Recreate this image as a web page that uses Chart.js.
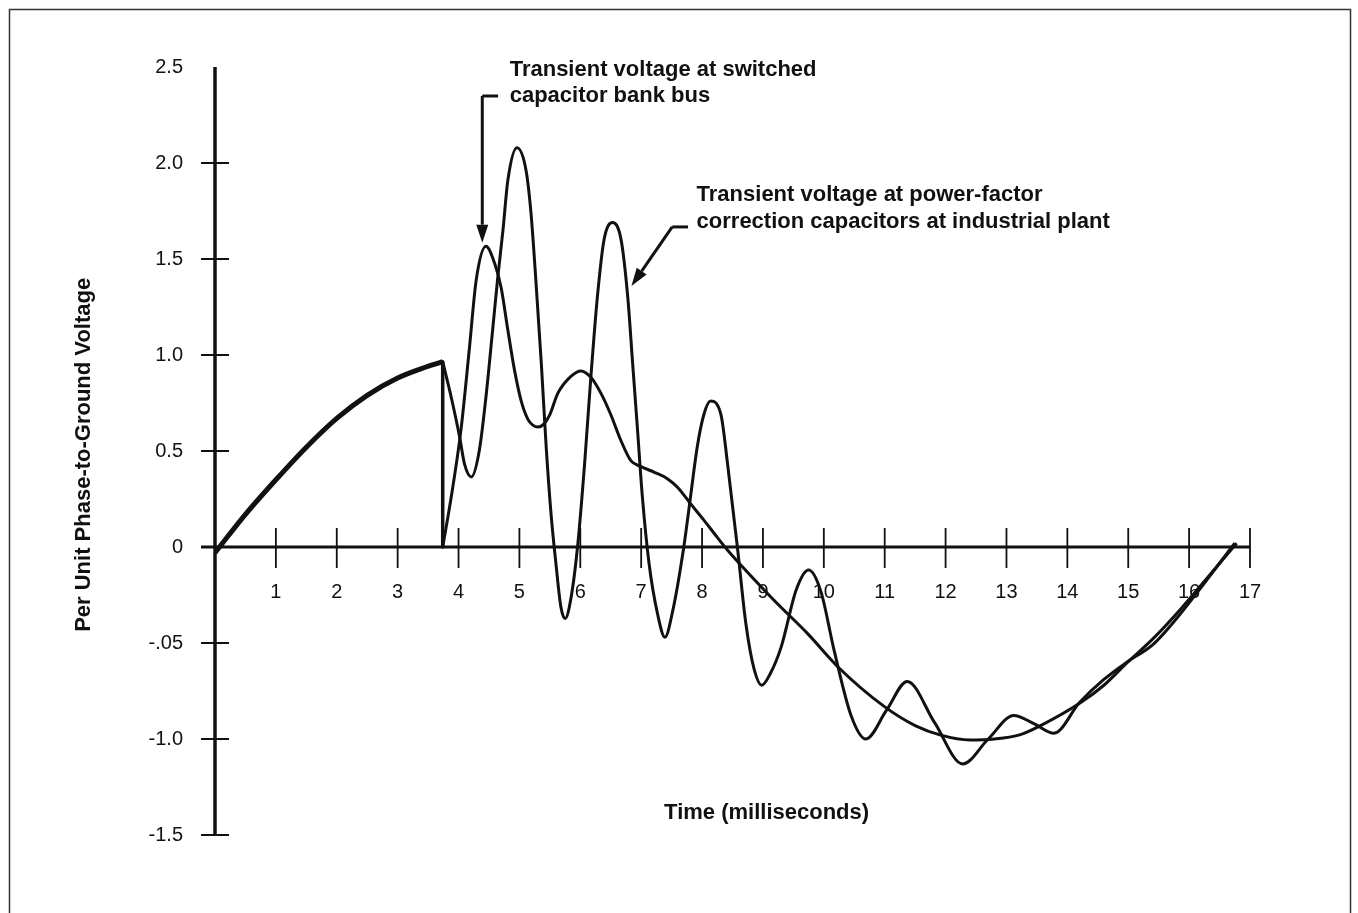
<!DOCTYPE html>
<html>
<head>
<meta charset="utf-8">
<title>Capacitor switching transient</title>
<script src="https://cdn.jsdelivr.net/npm/chart.js@4.4.1/dist/chart.umd.min.js"></script>
<style>
  html, body { margin: 0; padding: 0; background: #fff; }
  #wrap { position: relative; width: 1358px; height: 913px; }
</style>
</head>
<body>
<div id="wrap"><canvas id="chart"></canvas></div>
<script>
// Axis labels as printed on the original
const xTickLabels = ['', '1', '2', '3', '4', '5', '6', '7', '8', '9', '10', '11', '12', '13', '14', '15', '16', '17'];
const yTickLabels = ['-1.5', '-1.0', '-.05', '0', '0.5', '1.0', '1.5', '2.0', '2.5'];

// Before switching: both capacitors follow the 60 Hz wave
const preTime = [0, 0.5, 1, 1.5, 2, 2.5, 3, 3.4, 3.74];
const preVolt = [-0.03, 0.17, 0.35, 0.52, 0.67, 0.79, 0.88, 0.93, 0.965];

// Switching instant: bus voltage collapses to zero
const dropTime = [3.74, 3.74];
const dropVolt = [0.965, 0];

// Transient voltage at switched capacitor bank bus
const busTime = [3.74, 3.88, 4.04, 4.18, 4.29, 4.45, 4.59, 4.70, 4.81, 4.92, 5.03, 5.14, 5.22, 5.31, 5.40, 5.50, 5.63, 5.85,
  6.01, 6.17, 6.34, 6.50, 6.66, 6.83, 6.99, 7.21, 7.43, 7.60, 7.81, 8.03, 8.25, 8.42, 8.64, 9.19, 9.73, 10.25,
  10.99, 11.5, 11.92, 12.4, 12.8, 13.2, 13.56, 14.22, 14.6, 14.99, 15.4, 15.87, 16.3, 16.78];
const busVolt = [0, 0.26, 0.61, 1.04, 1.39, 1.566, 1.48, 1.35, 1.13, 0.92, 0.76, 0.665, 0.635, 0.625, 0.64, 0.69, 0.80, 0.89,
  0.917, 0.885, 0.80, 0.69, 0.56, 0.45, 0.42, 0.39, 0.356, 0.31, 0.226, 0.14, 0.05, -0.017, -0.095, -0.28, -0.45, -0.63,
  -0.83, -0.93, -0.98, -1.005, -1.0, -0.98, -0.93, -0.81, -0.72, -0.60, -0.48, -0.32, -0.16, 0.02];

// Transient voltage at power-factor correction capacitors (industrial plant)
const plantTime = [3.74, 3.88, 4.02, 4.10, 4.21, 4.34, 4.45, 4.56, 4.64, 4.73, 4.81, 4.96, 5.11, 5.19, 5.27, 5.36,
  5.44, 5.52, 5.60, 5.68, 5.75, 5.85, 5.96, 6.07, 6.17, 6.28, 6.39, 6.53, 6.67, 6.78, 6.86, 6.94, 7.02, 7.13, 7.27,
  7.39, 7.52, 7.70, 7.81, 7.92, 8.03, 8.14, 8.31, 8.42, 8.58, 8.72, 8.85, 8.98, 9.12, 9.3, 9.55, 9.75, 9.95, 10.17,
  10.45, 10.69, 11.03, 11.37, 11.82, 12.28, 12.7, 13.12, 13.45, 13.78, 14.2, 14.6, 15.0, 15.4, 15.8, 16.1, 16.75];
const plantVolt = [0.965, 0.78, 0.57, 0.43, 0.365, 0.50, 0.78, 1.13, 1.39, 1.65, 1.91, 2.08, 1.96, 1.74, 1.39, 0.955,
  0.52, 0.17, -0.087, -0.31, -0.373, -0.26, 0.017, 0.43, 0.87, 1.30, 1.60, 1.69, 1.60, 1.30, 0.955, 0.61, 0.26, -0.087, -0.35,
  -0.47, -0.33, 0, 0.26, 0.52, 0.69, 0.76, 0.69, 0.43, 0, -0.40, -0.63, -0.72, -0.66, -0.52, -0.22, -0.12, -0.23, -0.54,
  -0.88, -1.0, -0.85, -0.70, -0.915, -1.13, -1.0, -0.877, -0.92, -0.97, -0.81, -0.69, -0.595, -0.51, -0.37, -0.25, 0.02];

const toPoints = (xs, ys) => xs.map((x, i) => ({ x, y: ys[i] }));

const INK = '#111';
const FONT = '"Liberation Sans", Arial, Helvetica, sans-serif';

function arrow(ctx, x1, y1, x2, y2) {
  const ang = Math.atan2(y2 - y1, x2 - x1);
  const len = 18, half = 6;
  const bx = x2 - len * Math.cos(ang), by = y2 - len * Math.sin(ang);
  ctx.beginPath();
  ctx.moveTo(x1, y1);
  ctx.lineTo(bx, by);
  ctx.stroke();
  ctx.beginPath();
  ctx.moveTo(x2, y2);
  ctx.lineTo(bx + half * Math.sin(ang), by - half * Math.cos(ang));
  ctx.lineTo(bx - half * Math.sin(ang), by + half * Math.cos(ang));
  ctx.closePath();
  ctx.fill();
}

// Axes through the origin with ticks crossing them, notes and arrows
const decor = {
  id: 'decor',
  beforeDatasetsDraw(chart) {
    const { ctx, scales: { x, y } } = chart;
    const x0 = x.getPixelForValue(0), y0 = y.getPixelForValue(0);
    ctx.save();
    ctx.strokeStyle = INK;
    ctx.lineCap = 'butt';

    ctx.lineWidth = 3.5;
    ctx.beginPath();
    ctx.moveTo(x0, y.top);
    ctx.lineTo(x0, y.bottom);
    ctx.stroke();

    ctx.lineWidth = 3;
    ctx.beginPath();
    ctx.moveTo(x0 - 14, y0);
    ctx.lineTo(x.right, y0);
    ctx.stroke();

    ctx.lineWidth = 1.8;
    ctx.beginPath();
    y.ticks.forEach(t => {
      if (t.value >= y.max || t.value === 0) return;
      const py = y.getPixelForValue(t.value);
      ctx.moveTo(x0 - 14, py);
      ctx.lineTo(x0 + 14, py);
    });
    x.ticks.forEach(t => {
      if (t.value <= 0) return;
      const px = x.getPixelForValue(t.value);
      ctx.moveTo(px, y0 - 19);
      ctx.lineTo(px, y0 + 21);
    });
    ctx.stroke();
    ctx.restore();
  },
  afterDraw(chart) {
    const { ctx, scales: { x, y } } = chart;
    const px = v => x.getPixelForValue(v);
    const py = v => y.getPixelForValue(v);
    ctx.save();

    // frame
    ctx.strokeStyle = '#333';
    ctx.lineWidth = 1.5;
    ctx.strokeRect(9.5, 9.5, 1341, 940);

    ctx.fillStyle = INK;
    ctx.strokeStyle = INK;
    ctx.font = 'bold 22px ' + FONT;
    ctx.textBaseline = 'middle';
    ctx.textAlign = 'left';

    // note: switched capacitor bank bus
    ctx.fillText('Transient voltage at switched', px(4.84), py(2.484));
    ctx.fillText('capacitor bank bus', px(4.84), py(2.349));
    ctx.lineWidth = 3;
    ctx.beginPath();
    ctx.moveTo(px(4.39), py(2.349));
    ctx.lineTo(px(4.65), py(2.349));
    ctx.stroke();
    arrow(ctx, px(4.39), py(2.349), px(4.39), py(1.585));

    // note: industrial plant capacitors
    ctx.fillText('Transient voltage at power-factor', px(7.91), py(1.833));
    ctx.fillText('correction capacitors at industrial plant', px(7.91), py(1.693));
    ctx.beginPath();
    ctx.moveTo(px(7.51), py(1.667));
    ctx.lineTo(px(7.77), py(1.667));
    ctx.stroke();
    arrow(ctx, px(7.51), py(1.667), px(6.84), py(1.36));

    // x title inside the plot
    ctx.textAlign = 'center';
    ctx.fillText('Time (milliseconds)', px(9.06), py(-1.385));

    // y title
    ctx.translate(84, py(0.48));
    ctx.rotate(-Math.PI / 2);
    ctx.fillText('Per Unit Phase-to-Ground Voltage', 0, 0);
    ctx.restore();
  }
};

const line = (data, width, extra) => Object.assign({
  data,
  borderColor: INK,
  borderWidth: width,
  borderJoinStyle: 'round',
  pointRadius: 0,
  fill: false,
  cubicInterpolationMode: 'monotone'
}, extra || {});

new Chart(document.getElementById('chart'), {
  type: 'line',
  data: {
    datasets: [
      line(toPoints(preTime, preVolt), 5, { label: 'Before switching' }),
      line(toPoints(dropTime, dropVolt), 3.5, { label: 'Switching', tension: 0, cubicInterpolationMode: 'default' }),
      line(toPoints(busTime, busVolt), 3, { label: 'Switched capacitor bank bus' }),
      line(toPoints(plantTime, plantVolt), 3, { label: 'Industrial plant capacitors' })
    ]
  },
  options: {
    responsive: true,
    maintainAspectRatio: false,
    animation: false,
    layout: { padding: { left: 0, top: 67, right: 108, bottom: 78 } },
    plugins: { legend: { display: false }, tooltip: { enabled: false } },
    scales: {
      x: {
        type: 'linear',
        position: { y: 0 },
        min: 0,
        max: 17,
        grid: { display: false, drawTicks: false },
        border: { display: false },
        ticks: {
          stepSize: 1,
          autoSkip: false,
          maxRotation: 0,
          padding: 33,
          color: INK,
          font: { family: FONT, size: 20 },
          callback: (v, i) => xTickLabels[i]
        }
      },
      y: {
        type: 'linear',
        min: -1.5,
        max: 2.5,
        afterFit: s => { s.width = 215; },
        grid: { display: false, drawTicks: false },
        border: { display: false },
        ticks: {
          stepSize: 0.5,
          padding: 32,
          color: INK,
          font: { family: FONT, size: 20 },
          callback: (v, i) => yTickLabels[i]
        }
      }
    }
  },
  plugins: [decor]
});
</script>
</body>
</html>
